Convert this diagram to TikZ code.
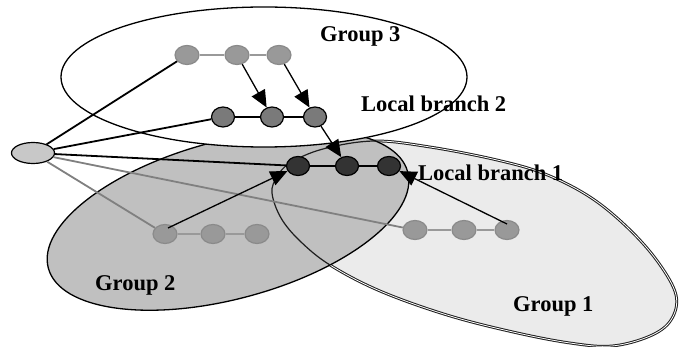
\documentclass[tikz,border=0pt]{standalone}
\usepackage{fontspec}
\setmainfont{Liberation Serif}
\usetikzlibrary{arrows.meta,shapes.geometric}
\definecolor{gonefill}{HTML}{EBEBEB}
\definecolor{gtwofill}{HTML}{C0C0C0}
\definecolor{nodeG}{HTML}{999999}
\definecolor{nodeGline}{HTML}{8A8A8A}
\definecolor{nodeM}{HTML}{7A7A7A}
\definecolor{nodeD}{HTML}{333333}
\definecolor{rootF}{HTML}{C8C8C8}
\definecolor{lineG}{HTML}{808080}
\definecolor{outGone}{HTML}{1E1E1E}
\begin{document}
\begin{tikzpicture}[x=1pt,y=-1pt,
  gnode/.style={ellipse,draw=nodeGline,fill=nodeG,line width=1.2pt,minimum width=24pt,minimum height=19pt,inner sep=0pt},
  mnode/.style={ellipse,draw=black,fill=nodeM,line width=1.2pt,minimum width=23pt,minimum height=20pt,inner sep=0pt},
  dnode/.style={ellipse,draw=black,fill=nodeD,line width=1.2pt,minimum width=23pt,minimum height=19pt,inner sep=0pt},
  rootnode/.style={ellipse,draw=black,fill=rootF,line width=1.2pt,minimum width=43pt,minimum height=21pt,inner sep=0pt},
  blkline/.style={line width=1.8pt,black},
  gryline/.style={line width=1.8pt,lineG},
  chainG/.style={line width=1.5pt,nodeG},
  chainB/.style={line width=1.3pt,black},
  arr/.style={line width=1.3pt,black,-{Triangle[length=17pt,width=15pt]}},
  lbl/.style={font=\fontsize{22.5}{26}\selectfont\bfseries,inner sep=0pt,anchor=base west}]
\fill[white] (0,0) rectangle (682,347);
\useasboundingbox (0,0) rectangle (682,347);

% Group 1 (light, double outline)
\draw[fill=gonefill,draw=outGone,double=white,double distance=0.8pt,line width=1pt]
  plot[smooth cycle,tension=0.6] coordinates {(272,193) (277,177) (290,163) (323,149) (374,141) (430,147) (497,160) (545,174) (590,197) (628,228) (658,262) (676,295) (671,320) (650,336) (612,346) (570,343) (513,332) (447,315) (380,291) (330,265) (300,241) (281,218)};

% Group 2
\draw[fill=gtwofill,draw=black,line width=1.3pt,rotate around={15:(228,220)}]
  (228,220) ellipse [x radius=186pt, y radius=79pt];

% Group 1 outline seen through Group 2
\begin{scope}
  \clip[rotate around={15:(228,220)}] (228,220) ellipse [x radius=186pt, y radius=79pt];
  \draw[draw=outGone,line width=1.2pt]
    plot[smooth cycle,tension=0.6] coordinates {(272,193) (277,177) (290,163) (323,149) (374,141) (430,147) (497,160) (545,174) (590,197) (628,228) (658,262) (676,295) (671,320) (650,336) (612,346) (570,343) (513,332) (447,315) (380,291) (330,265) (300,241) (281,218)};
\end{scope}

% Group 3
\draw[fill=white,draw=black,line width=1.3pt] (264,77) ellipse [x radius=203pt, y radius=70pt];

% nodes
\node[rootnode] (r) at (33,153) {};
\node[gnode] (a1) at (187,55) {};
\node[gnode] (a2) at (237,55) {};
\node[gnode] (a3) at (279,55) {};
\node[mnode] (b1) at (223,117) {};
\node[mnode] (b2) at (272,117) {};
\node[mnode] (b3) at (315,117) {};
\node[dnode] (c1) at (298,166) {};
\node[dnode] (c2) at (347,166) {};
\node[dnode] (c3) at (389,166) {};
\node[gnode] (d1) at (165,234) {};
\node[gnode] (d2) at (213,234) {};
\node[gnode] (d3) at (257,234) {};
\node[gnode] (e1) at (415,230) {};
\node[gnode] (e2) at (464,230) {};
\node[gnode] (e3) at (507,230) {};

% chains
\draw[chainG] (a1) -- (a2) -- (a3);
\draw[chainB] (b1) -- (b2) -- (b3);
\draw[chainB] (c1) -- (c2) -- (c3);
\draw[chainG] (d1) -- (d2) -- (d3);
\draw[chainG] (e1) -- (e2) -- (e3);

% root connectors
\draw[blkline] (r) -- (a1);
\draw[blkline] (r) -- (b1);
\draw[blkline] (r) -- (c1);
\draw[gryline] (r) -- (d1);
\draw[gryline] (r) -- (e1);

% arrows
\draw[arr] (a2) -- (b2);
\draw[arr] (a3) -- (b3);
\draw[arr] (b3) -- (c2);
\draw[arr] ([xshift=3pt,yshift=6pt]d1.center) -- (c1);
\draw[arr] ([yshift=6pt]e3.center) -- (c3);

% labels
\node[lbl] (t3) at (320,42) {Group 3};
\node[lbl] (tlbtwo) at (361,112) {Local branch 2};
\node[lbl] (tlbone) at (418,181) {Local branch 1};
\node[lbl] (t2) at (95,290) {Group 2};
\node[lbl] (t1) at (513,311) {Group 1};
\end{tikzpicture}
\end{document}
